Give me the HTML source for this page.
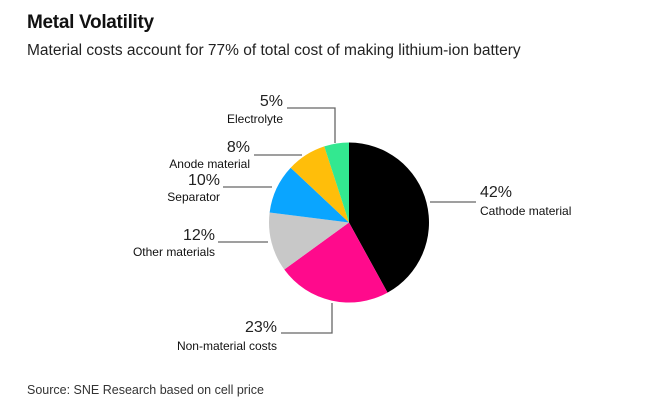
<!DOCTYPE html>
<html><head><meta charset="utf-8"><style>
body{margin:0;background:#fff;font-family:"Liberation Sans",sans-serif;}
#wrap{position:relative;width:646px;height:418px;overflow:hidden;}
.t{position:absolute;white-space:nowrap;color:#111;}
</style></head><body>
<div id="wrap">
<div class="t" style="left:27px;top:12px;font-size:19px;font-weight:bold;letter-spacing:-0.3px">Metal Volatility</div>
<div class="t" style="left:27px;top:42px;font-size:15.5px;color:#222">Material costs account for 77% of total cost of making lithium-ion battery</div>
<svg id="pie" width="646" height="418" style="position:absolute;left:0;top:0"></svg>
<div class="t" style="left:27px;top:383px;font-size:12.5px;color:#333">Source: SNE Research based on cell price</div>
</div>
<script>
const categories=["Cathode material","Non-material costs","Other materials","Separator","Anode material","Electrolyte"];
const values=[42,23,12,10,8,5];
const colors=["#000000","#ff0a8c","#c8c8c8","#0aa5ff","#ffbe0a","#33e890"];
const cx=349,cy=222.5,r=80;
const svg=document.getElementById('pie');
const NS="http://www.w3.org/2000/svg";
const total=values.reduce((a,b)=>a+b,0);
function pt(a,rr){return [cx+rr*Math.sin(a),cy-rr*Math.cos(a)];}
let acc=0;
values.forEach((v,i)=>{
  const a0=acc/total*2*Math.PI; acc+=v; const a1=acc/total*2*Math.PI;
  const p0=pt(a0,r),p1=pt(a1,r);
  const p=document.createElementNS(NS,'path');
  p.setAttribute('d',`M${cx},${cy}L${p0[0]},${p0[1]}A${r},${r} 0 ${a1-a0>Math.PI?1:0} 1 ${p1[0]},${p1[1]}Z`);
  p.setAttribute('fill',colors[i]);
  
  
  svg.appendChild(p);
});
// leader lines and labels
const labels=[
 {line:"M430,202H476",pct:[480,197,'start'],name:[480,215,'start']},
 {line:"M332,303V333H281",pct:[277,332,'end'],name:[277,350,'end']},
 {line:"M268,242H218",pct:[215,240,'end'],name:[215,256,'end']},
 {line:"M272,187H223",pct:[220,185,'end'],name:[220,201,'end']},
 {line:"M302,155H254",pct:[250,152,'end'],name:[250,168,'end']},
 {line:"M335,143V108H287",pct:[283,106,'end'],name:[283,123,'end']}
];
labels.forEach((L,i)=>{
  const ln=document.createElementNS(NS,'path');
  ln.setAttribute('d',L.line);ln.setAttribute('stroke','#666');ln.setAttribute('stroke-width','1.3');ln.setAttribute('fill','none');
  
  
  svg.appendChild(ln);
  const t1=document.createElementNS(NS,'text');
  t1.setAttribute('x',L.pct[0]);t1.setAttribute('y',L.pct[1]);t1.setAttribute('text-anchor',L.pct[2]);
  t1.setAttribute('font-size','16');t1.setAttribute('fill','#222');t1.setAttribute('font-family','Liberation Sans, sans-serif');
  t1.textContent=values[i]+'%';
  
  
  svg.appendChild(t1);
  const t2=document.createElementNS(NS,'text');
  t2.setAttribute('x',L.name[0]);t2.setAttribute('y',L.name[1]);t2.setAttribute('text-anchor',L.name[2]);
  t2.setAttribute('font-size','12');t2.setAttribute('fill','#111');t2.setAttribute('font-family','Liberation Sans, sans-serif');
  t2.textContent=categories[i];
  
  
  svg.appendChild(t2);
});
</script>
</body></html>
